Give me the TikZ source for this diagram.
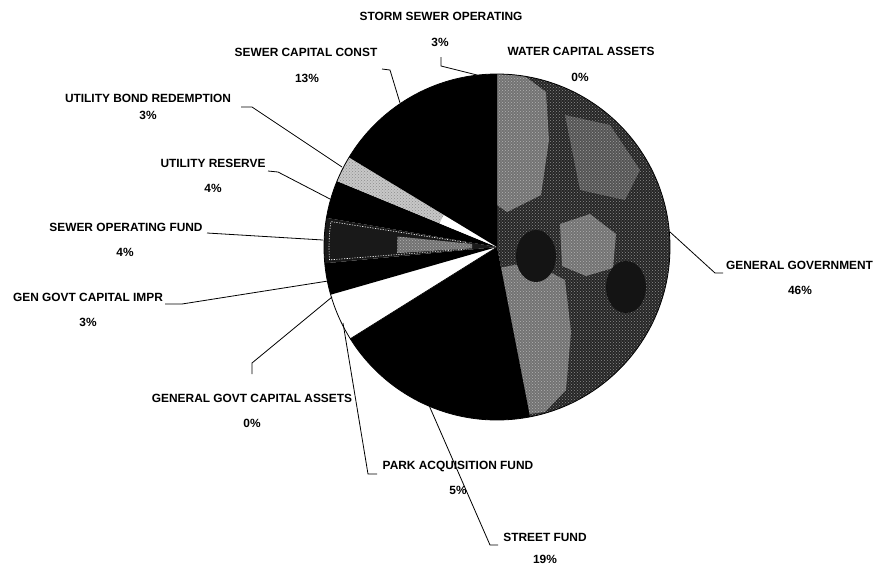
\documentclass[tikz,border=0pt]{standalone}
\usepackage{fontspec}
\setmainfont{Liberation Sans}
\usetikzlibrary{patterns}
\begin{document}
\begin{tikzpicture}[x=1pt,y=-1pt,
  lbl/.style={font=\bfseries\fontsize{11.9}{12}\selectfont, inner sep=0pt, text=black},
  lead/.style={line width=0.8pt, black},
  rim/.style={line width=0.8pt, black},
  lightdot/.style={fill=black!55, postaction={pattern=crosshatch dots, pattern color=white!70!black}},
  darkdot/.style={fill=black!85, postaction={pattern=crosshatch dots, pattern color=black!45}}]
\useasboundingbox (0,0) rectangle (873,566);
\fill[white] (0,0) rectangle (873,566);
\coordinate (C) at (497,247);
\def\R{173}
% --- general government (mottled gray)
\begin{scope}
  \clip (C) -- plot[domain=-90:79,samples=60] ({497+\R*cos(\x)},{247+\R*sin(\x)}) -- cycle;
  \fill[darkdot] (300,50) rectangle (700,450);
  \fill[lightdot] (497,74) -- (522,74) -- (546,92) -- (549,140) -- (541,195) -- (507,212) -- (497,205) -- cycle;
  \fill[lightdot] (499,268) -- (530,262) -- (565,280) -- (571,332) -- (566,390) -- (545,412) -- (520,415) -- cycle;
  \fill[lightdot] (560,224) -- (590,214) -- (616,234) -- (613,268) -- (586,276) -- (562,266) -- cycle;
  \fill[lightdot, opacity=0.6] (565,115) -- (610,125) -- (640,170) -- (625,200) -- (580,190) -- cycle;
  \fill[black!92] (536,256) ellipse[x radius=20, y radius=26];
  \fill[black!92] (626,287) ellipse[x radius=20, y radius=26];
\end{scope}
% --- street fund
\fill[black] (C) -- plot[domain=79:148,samples=40] ({497+\R*cos(\x)},{247+\R*sin(\x)}) -- cycle;
% --- park acquisition fund
\fill[white] (C) -- plot[domain=148:164,samples=12] ({497+\R*cos(\x)},{247+\R*sin(\x)}) -- cycle;
\draw[line width=0.6pt] (C) -- ({497+\R*cos(148)},{247+\R*sin(148)});
% --- gen govt capital impr
\fill[black] (C) -- plot[domain=164:174.6,samples=8] ({497+\R*cos(\x)},{247+\R*sin(\x)}) -- cycle;
% --- sewer operating fund
\fill[black!90] (C) -- plot[domain=174.6:189.7,samples=10] ({497+\R*cos(\x)},{247+\R*sin(\x)}) -- cycle;
\fill[lightdot] ({497+25*cos(177)},{247+25*sin(177)}) -- ({497+100*cos(176.5)},{247+100*sin(176.5)}) -- ({497+100*cos(186)},{247+100*sin(186)}) -- ({497+25*cos(187)},{247+25*sin(187)}) -- cycle;
\draw[white, line width=0.6pt, dash pattern=on 1.2pt off 1.4pt]
  ({497+30*cos(176)},{247+30*sin(176)}) -- plot[domain=175.6:188.7,samples=10] ({497+168*cos(\x)},{247+168*sin(\x)}) -- ({497+30*cos(188.5)},{247+30*sin(188.5)});
% --- utility reserve
\fill[black] (C) -- plot[domain=189.7:202.4,samples=8] ({497+\R*cos(\x)},{247+\R*sin(\x)}) -- cycle;
% --- utility bond redemption
\fill[black!22, postaction={pattern=crosshatch dots, pattern color=black!45}] (C) -- plot[domain=202.4:211.2,samples=8] ({497+\R*cos(\x)},{247+\R*sin(\x)}) -- cycle;
\fill[white] (C) -- plot[domain=202.4:211.2,samples=6] ({497+62*cos(\x)},{247+62*sin(\x)}) -- cycle;
% --- sewer capital const + storm sewer operating
\fill[black] (C) -- plot[domain=211.2:270,samples=30] ({497+\R*cos(\x)},{247+\R*sin(\x)}) -- cycle;
% --- outline
\draw[rim] (497,247) circle[radius=\R];

% --- labels
\node[lbl] (storm)   at (441,16)  {STORM SEWER OPERATING};
\node[lbl] (storm-p) at (440,42)  {3\%};
\node[lbl] (water)   at (581,51)  {WATER CAPITAL ASSETS};
\node[lbl] (water-p) at (580,77)  {0\%};
\node[lbl] (scc)     at (306,52)  {SEWER CAPITAL CONST};
\node[lbl] (scc-p)   at (307,78)  {13\%};
\node[lbl] (ubr)     at (148,98)  {UTILITY BOND REDEMPTION};
\node[lbl] (ubr-p)   at (148,115) {3\%};
\node[lbl] (ures)    at (213,163) {UTILITY RESERVE};
\node[lbl] (ures-p)  at (213,188) {4\%};
\node[lbl] (sof)     at (126,227) {SEWER OPERATING FUND};
\node[lbl] (sof-p)   at (125,252) {4\%};
\node[lbl] (ggci)    at (88,297)  {GEN GOVT CAPITAL IMPR};
\node[lbl] (ggci-p)  at (88,322)  {3\%};
\node[lbl] (ggca)    at (252,398) {GENERAL GOVT CAPITAL ASSETS};
\node[lbl] (ggca-p)  at (252,423) {0\%};
\node[lbl] (park)    at (458,467) {PARK ACQUISITION FUND};
\node[lbl] (park-p)  at (458,490) {5\%};
\node[lbl] (street)  at (545,537) {STREET FUND};
\node[lbl] (street-p) at (545,559) {19\%};
\node[lbl, anchor=west] (gg) at (726,265) {GENERAL GOVERNMENT};
\node[lbl] (gg-p)    at (800,290) {46\%};

% --- leader lines
\coordinate (s1) at (441,57);   \coordinate (s2) at (441,66);   \coordinate (se) at (477,75);
\coordinate (c1) at (382,69);   \coordinate (c2) at (390,70);   \coordinate (ce) at (400,103);
\coordinate (b1) at (241,107);  \coordinate (b2) at (252,107);  \coordinate (be) at (342,167);
\coordinate (r1) at (268,171);  \coordinate (r2) at (278,172);  \coordinate (re) at (330,199);
\coordinate (o1) at (207,233);  \coordinate (oe) at (323,240);
\coordinate (i1) at (165,304);  \coordinate (i2) at (182,304);  \coordinate (ie) at (328,281);
\coordinate (a1) at (252,374);  \coordinate (a2) at (252,363);  \coordinate (ae) at (332,297);
\coordinate (p1) at (377,474);  \coordinate (p2) at (368,474);  \coordinate (pe) at (343,323);
\coordinate (t1) at (498,545);  \coordinate (t2) at (490,545);  \coordinate (te) at (428,403);
\coordinate (g1) at (723,273);  \coordinate (g2) at (715,273);  \coordinate (ge) at (670,232);
\draw[lead] (s1) -- (s2) -- (se);
\draw[lead] (c1) -- (c2) -- (ce);
\draw[lead] (b1) -- (b2) -- (be);
\draw[lead] (r1) -- (r2) -- (re);
\draw[lead] (o1) -- (oe);
\draw[lead] (i1) -- (i2) -- (ie);
\draw[lead] (a1) -- (a2) -- (ae);
\draw[lead] (p1) -- (p2) -- (pe);
\draw[lead] (t1) -- (t2) -- (te);
\draw[lead] (g1) -- (g2) -- (ge);
\end{tikzpicture}
\end{document}
